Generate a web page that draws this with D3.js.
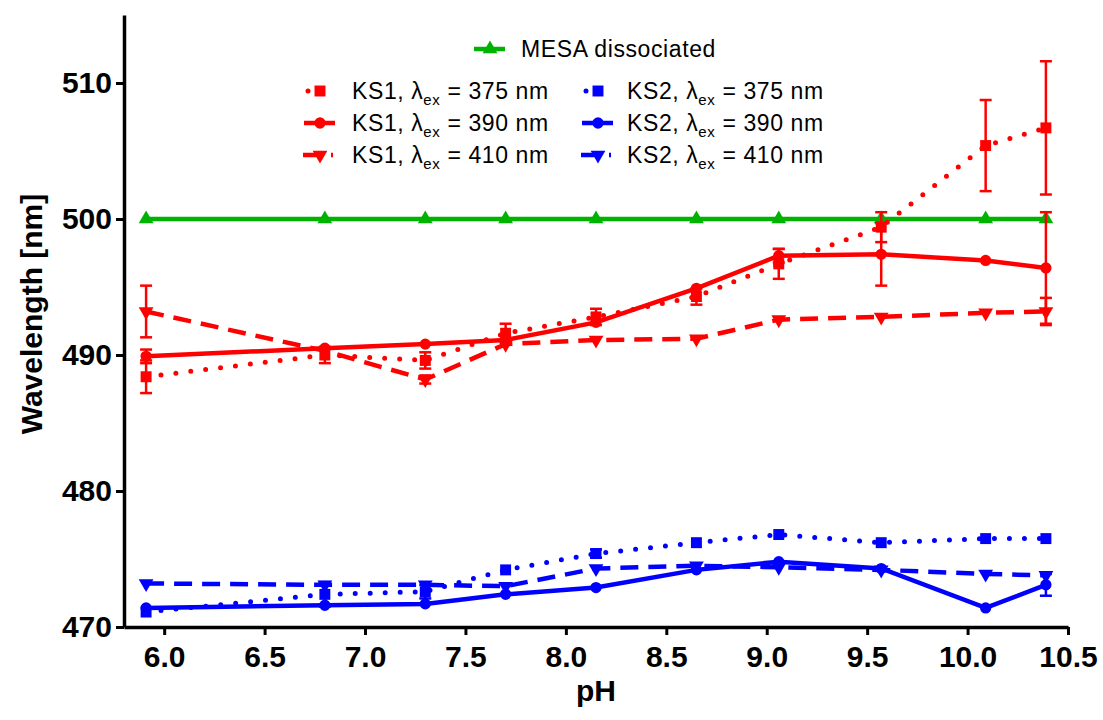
<!DOCTYPE html>
<html>
<head>
<meta charset="utf-8">
<script src="https://cdn.jsdelivr.net/npm/d3@7"></script>
<style>
  html, body { margin: 0; padding: 0; background: #fff; }
  svg { display: block; font-family: "Liberation Sans", Arial, sans-serif; }
</style>
</head>
<body>
<svg id="chart" width="1103" height="720"></svg>
<script>
// ---------------- data ----------------
const pH = [5.91, 6.80, 7.30, 7.70, 8.15, 8.65, 9.06, 9.57, 10.09, 10.39];
const xTicks = [6.0, 6.5, 7.0, 7.5, 8.0, 8.5, 9.0, 9.5, 10.0, 10.5];
const yTicks = [470, 480, 490, 500, 510];

const mesa      = [500, 500, 500, 500, 500, 500, 500, 500, 500, 500];
const ks1_375   = [488.4, 490.0, 489.6, 491.6, 492.8, 494.3, 496.7, 499.4, 505.4, 506.7];
const ks1_375_e = [1.2, 0.6, 0.6, 0.7, 0.6, 0.6, 1.1, 1.1, 3.35, 4.9];
const ks1_390   = [489.9, 490.5, 490.8, 491.1, 492.4, 494.9, 497.3, 497.4, 496.95, 496.4];
const ks1_390_e = [0.5, 0, 0, 0, 0, 0, 0.5, 2.3, 0, 4.1];
const ks1_410   = [493.2, 490.3, 488.2, 490.8, 491.1, 491.2, 492.6, 492.8, 493.1, 493.2];
const ks1_410_e = [1.9, 0, 0.3, 0, 0, 0, 0, 0, 0, 1.0];
const ks2_375   = [471.1, 472.4, 472.6, 474.2, 475.4, 476.2, 476.8, 476.2, 476.5, 476.5];
const ks2_375_e = [0, 0.9, 0.5, 0, 0.3, 0, 0, 0, 0, 0];
const ks2_390   = [471.4, 471.6, 471.7, 472.4, 472.9, 474.2, 474.8, 474.3, 471.4, 473.1];
const ks2_390_e = [0, 0, 0, 0, 0, 0, 0, 0, 0, 0.8];
const ks2_410   = [473.2, 473.1, 473.1, 473.0, 474.3, 474.5, 474.4, 474.2, 473.9, 473.8];
const ks2_410_e = [0, 0, 0, 0, 0, 0, 0, 0, 0, 0];

const seriesNames = ["MESA dissociated",
  "KS1, \u03bb|ex| = 375 nm", "KS1, \u03bb|ex| = 390 nm", "KS1, \u03bb|ex| = 410 nm",
  "KS2, \u03bb|ex| = 375 nm", "KS2, \u03bb|ex| = 390 nm", "KS2, \u03bb|ex| = 410 nm"];

// ---------------- styling ----------------
const RED = "#ff0000", BLUE = "#0000ff", GREEN = "#00b300";
const series = [
  {name: seriesNames[0], vals: mesa,    err: null,      color: GREEN, style: "solid",  marker: "up"},
  {name: seriesNames[1], vals: ks1_375, err: ks1_375_e, color: RED,   style: "dotted", marker: "square"},
  {name: seriesNames[2], vals: ks1_390, err: ks1_390_e, color: RED,   style: "solid",  marker: "circle"},
  {name: seriesNames[3], vals: ks1_410, err: ks1_410_e, color: RED,   style: "dashed", marker: "down"},
  {name: seriesNames[4], vals: ks2_375, err: ks2_375_e, color: BLUE,  style: "dotted", marker: "square"},
  {name: seriesNames[5], vals: ks2_390, err: ks2_390_e, color: BLUE,  style: "solid",  marker: "circle"},
  {name: seriesNames[6], vals: ks2_410, err: ks2_410_e, color: BLUE,  style: "dashed", marker: "down"}
];

const svg = d3.select("#chart");
const L = 124, R = 1068, T = 15, B = 627;

const x = d3.scaleLinear().domain([5.8, 10.5]).range([L, R]);
const y = d3.scaleLinear().domain([470, 515]).range([B, T]);

function applyLine(sel, style) {
  sel.attr("fill", "none");
  if (style === "dotted") sel.attr("stroke-width", 5).attr("stroke-dasharray", "0 15").attr("stroke-linecap", "round");
  else if (style === "dashed") sel.attr("stroke-width", 4.5).attr("stroke-dasharray", "18 10");
  else sel.attr("stroke-width", 4.5);
}
function symbolPath(m) {
  if (m === "square") return d3.symbol(d3.symbolSquare, 120)();
  if (m === "circle") return d3.symbol(d3.symbolCircle, 100)();
  return d3.symbol(d3.symbolTriangle, 95)();
}

// ---------------- axes ----------------
const xAxis = svg.append("g").attr("transform", `translate(0,${B})`)
  .call(d3.axisBottom(x).tickValues(xTicks).tickFormat(d3.format(".1f")).tickSize(8).tickSizeOuter(0).tickPadding(11));
const yAxis = svg.append("g").attr("transform", `translate(${L},0)`)
  .call(d3.axisLeft(y).tickValues(yTicks).tickSize(8).tickSizeOuter(0).tickPadding(4));
[xAxis, yAxis].forEach(a => {
  a.select(".domain").attr("stroke", "#000").attr("stroke-width", 3.5);
  a.selectAll(".tick line").attr("stroke", "#000").attr("stroke-width", 3);
  a.selectAll(".tick text").attr("font-size", 30).attr("font-weight", "bold")
    .attr("font-family", "'Liberation Sans', Arial, sans-serif").attr("fill", "#000");
});

svg.append("text").attr("x", (L + R) / 2).attr("y", 701).attr("text-anchor", "middle")
  .attr("font-size", 30).attr("font-weight", "bold").text("pH");
svg.append("text").attr("transform", `translate(42,314) rotate(-90)`).attr("text-anchor", "middle")
  .attr("font-size", 30).attr("font-weight", "bold").text("Wavelength [nm]");

// ---------------- series ----------------
const plot = svg.append("g");
series.forEach(s => {
  const g = plot.append("g");
  const pts = pH.map((p, i) => ({p, v: s.vals[i], e: s.err ? s.err[i] : 0}));
  const line = d3.line().x(d => x(d.p)).y(d => y(d.v));
  g.append("path").datum(pts).attr("d", line).attr("stroke", s.color).call(applyLine, s.style);
  // error bars
  pts.filter(d => d.e > 0).forEach(d => {
    const cx = x(d.p);
    g.append("line").attr("x1", cx).attr("x2", cx).attr("y1", y(d.v - d.e)).attr("y2", y(d.v + d.e))
      .attr("stroke", s.color).attr("stroke-width", 2.5);
    [d.v - d.e, d.v + d.e].forEach(v => {
      g.append("line").attr("x1", cx - 6).attr("x2", cx + 6).attr("y1", y(v)).attr("y2", y(v))
        .attr("stroke", s.color).attr("stroke-width", 2.5);
    });
  });
  g.selectAll("path.mk").data(pts).enter().append("path").attr("class", "mk")
    .attr("d", symbolPath(s.marker))
    .attr("transform", d => `translate(${x(d.p)},${y(d.v)})` + (s.marker === "down" ? " rotate(180)" : ""))
    .attr("fill", s.color);
});

// ---------------- legend ----------------
const legendPos = [
  {sx: 490, tx: 521, cy: 49},
  {sx: 320, tx: 352, cy: 91}, {sx: 320, tx: 352, cy: 123}, {sx: 320, tx: 352, cy: 155},
  {sx: 598, tx: 627, cy: 91}, {sx: 598, tx: 627, cy: 123}, {sx: 598, tx: 627, cy: 155}
];
series.forEach((s, i) => {
  const p = legendPos[i];
  const g = svg.append("g");
  let x1 = p.sx - 16, x2 = p.sx + 15;
  if (s.style === "dotted") { x1 = p.sx - 12; x2 = p.sx + 2; }
  if (s.style === "dashed") { x1 = p.sx - 17; x2 = p.sx + 13; }
  g.append("line").attr("x1", x1).attr("x2", x2).attr("y1", p.cy).attr("y2", p.cy)
    .attr("stroke", s.color).call(applyLine, s.style);
  g.append("path").attr("d", symbolPath(s.marker))
    .attr("transform", `translate(${p.sx},${p.cy})` + (s.marker === "down" ? " rotate(180)" : ""))
    .attr("fill", s.color);
  const parts = s.name.split("|");
  const t = g.append("text").attr("x", p.tx).attr("y", p.cy + 8).attr("font-size", 23)
    .attr("letter-spacing", 0.6).attr("fill", "#000");
  t.append("tspan").text(parts[0]);
  if (parts.length > 1) {
    t.append("tspan").attr("dy", 6).attr("font-size", 15).text(parts[1]);
    t.append("tspan").attr("dy", -6).text(parts[2]);
  }
});
</script>
</body>
</html>
